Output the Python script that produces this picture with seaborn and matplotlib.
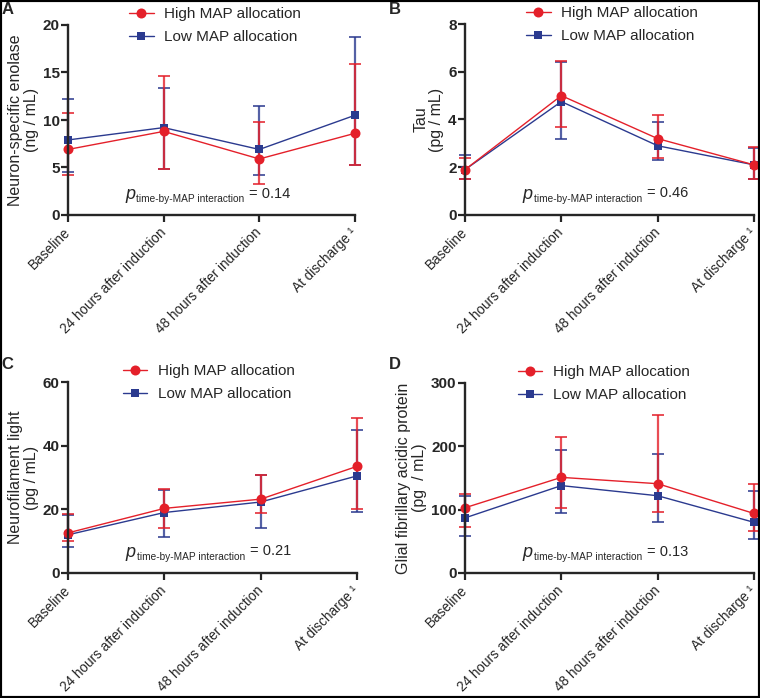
import pandas as pd
import seaborn as sns
import matplotlib.pyplot as plt
from matplotlib.patches import Rectangle

timepoints = ["Baseline", "24 hours after induction", "48 hours after induction", "At discharge \u00b9"]
groups = ["High MAP allocation", "Low MAP allocation"]
colors = {"High MAP allocation": "#E4202A", "Low MAP allocation": "#2B3A8F"}

# A: neuron-specific enolase (ng / mL)
nse_high = [6.9, 8.8, 5.9, 8.6]
nse_high_lo = [4.2, 4.8, 3.3, 5.3]
nse_high_hi = [10.7, 14.6, 9.8, 15.9]
nse_low = [7.9, 9.2, 6.9, 10.5]
nse_low_lo = [4.5, 4.8, 4.2, 5.3]
nse_low_hi = [12.2, 13.4, 11.5, 18.7]

# B: tau (pg / mL)
tau_high = [1.9, 5.0, 3.2, 2.1]
tau_high_lo = [1.5, 3.7, 2.4, 1.5]
tau_high_hi = [2.4, 6.45, 4.2, 2.85]
tau_low = [1.9, 4.75, 2.9, 2.1]
tau_low_lo = [1.5, 3.2, 2.3, 1.5]
tau_low_hi = [2.5, 6.4, 3.9, 2.8]

# C: neurofilament light (pg / mL)
nfl_high = [12.6, 20.3, 23.2, 33.5]
nfl_high_lo = [10.2, 14.1, 18.7, 20.2]
nfl_high_hi = [18.6, 26.3, 30.9, 48.7]
nfl_low = [12.0, 19.0, 22.3, 30.5]
nfl_low_lo = [8.3, 11.4, 14.2, 19.2]
nfl_low_hi = [18.2, 26.0, 30.8, 44.8]

# D: glial fibrillary acidic protein (pg / mL)
gfap_high = [103, 151, 141, 94]
gfap_high_lo = [72, 103, 96, 67]
gfap_high_hi = [125, 215, 249, 141]
gfap_low = [87, 138, 122, 80]
gfap_low_lo = [59, 95, 80, 53]
gfap_low_hi = [121, 195, 188, 129]

p_values = ["0.14", "0.46", "0.21", "0.13"]

sns.set_style("ticks")
plt.rcParams["font.family"] = ["Liberation Sans", "DejaVu Sans"]


def plot_panel(ax, high, high_lo, high_hi, low, low_lo, low_hi, ylabel, yticks, p_val, leg_x):
    series = [
        (groups[1], low, low_lo, low_hi, "s", 6),
        (groups[0], high, high_lo, high_hi, "o", 7.2),
    ]
    # error bars under the lines
    for name, mean, lo, hi, _, _ in series:
        err = [[m - l for m, l in zip(mean, lo)], [h - m for m, h in zip(mean, hi)]]
        ax.errorbar(range(4), mean, yerr=err, fmt="none", ecolor=colors[name],
                    elinewidth=1.6, capsize=4, capthick=1.4, alpha=0.8, clip_on=False)
    for name, mean, _, _, marker, ms in series:
        df = pd.DataFrame({"time": range(4), "value": mean})
        sns.lineplot(data=df, x="time", y="value", color=colors[name], marker=marker,
                     markersize=ms, markeredgewidth=0, lw=1, label=name, ax=ax, clip_on=False)

    ax.set_xlim(0, 3)
    ax.set_ylim(yticks[0], yticks[-1])
    ax.set_yticks(yticks)
    ax.set_xticks(range(4))
    ax.set_xticklabels(timepoints, rotation=45, ha="right", va="center",
                       rotation_mode="anchor", fontsize=9.8)
    for lab in ax.get_yticklabels():
        lab.set_fontweight("bold")
        lab.set_fontsize(11)
    ax.tick_params(axis="both", length=5, width=1.6)
    ax.tick_params(axis="y", pad=1)
    ax.tick_params(axis="x", pad=6)
    for s in ["left", "bottom"]:
        ax.spines[s].set_linewidth(1.7)
    sns.despine(ax=ax)
    ax.set_xlabel("")
    ax.set_ylabel(ylabel, fontsize=11.5, labelpad=3, linespacing=1.05)

    handles, labels = ax.get_legend_handles_labels()
    order = [labels.index(g) for g in groups]
    ax.legend([handles[i] for i in order], groups, loc="upper left",
              bbox_to_anchor=(leg_x, 1.095), frameon=False, fontsize=11,
              handlelength=1.6, handletextpad=0.7, labelspacing=0.6,
              borderpad=0, borderaxespad=0)

    ax.text(0.20, 0.085, "p", transform=ax.transAxes, fontsize=13, style="italic", va="baseline")
    ax.text(0.238, 0.068, "time-by-MAP interaction", transform=ax.transAxes, fontsize=7.3, va="baseline")
    ax.text(0.63, 0.092, "= " + p_val, transform=ax.transAxes, fontsize=10.5, va="baseline")


fig = plt.figure(figsize=(7.6, 6.98), dpi=100)
W, H = 760, 698


def add_axes(left, right, top, bottom):
    return fig.add_axes([left / W, 1 - bottom / H, (right - left) / W, (bottom - top) / H])


axA = add_axes(68, 355, 25, 215)
axB = add_axes(465, 754, 24, 215)
axC = add_axes(68, 357, 382, 573)
axD = add_axes(465, 754, 383, 573)

plot_panel(axA, nse_high, nse_high_lo, nse_high_hi, nse_low, nse_low_lo, nse_low_hi,
           "Neuron-specific enolase\n(ng / mL)", [0, 5, 10, 15, 20], p_values[0], 0.213)
plot_panel(axB, tau_high, tau_high_lo, tau_high_hi, tau_low, tau_low_lo, tau_low_hi,
           "Tau\n(pg / mL)", [0, 2, 4, 6, 8], p_values[1], 0.212)
plot_panel(axC, nfl_high, nfl_high_lo, nfl_high_hi, nfl_low, nfl_low_lo, nfl_low_hi,
           "Neurofilament light\n(pg / mL)", [0, 20, 40, 60], p_values[2], 0.19)
plot_panel(axD, gfap_high, gfap_high_lo, gfap_high_hi, gfap_low, gfap_low_lo, gfap_low_hi,
           "Glial fibrillary acidic protein\n(pg  / mL)", [0, 100, 200, 300], p_values[3], 0.183)

for letter, x, y in [("A", 8, 10), ("B", 395, 9), ("C", 7, 365), ("D", 395, 365)]:
    fig.text(x / W, 1 - y / H, letter, fontsize=12, fontweight="bold", ha="center", va="center")

fig.add_artist(Rectangle((0, 0), 1, 1, transform=fig.transFigure, fill=False, lw=3, ec="black"))

fig.savefig("out.png", dpi=100)
